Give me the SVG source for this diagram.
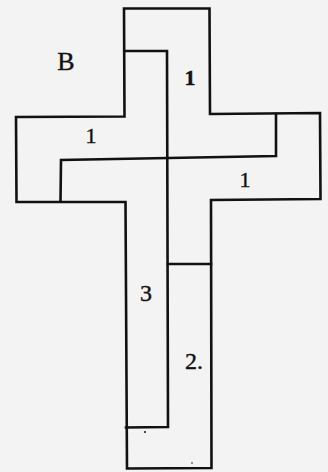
<svg xmlns="http://www.w3.org/2000/svg" width="328" height="472" viewBox="0 0 328 472">
<style>
.ln{fill:none;stroke:#111;stroke-width:2.6;stroke-linejoin:miter;stroke-linecap:square}
.lb{font-family:"Liberation Serif","DejaVu Serif",serif;fill:#111;stroke:#111;stroke-width:0.4;text-anchor:middle}
</style>
<rect width="328" height="472" fill="#f3f3f3"/>
<g id="outline">
<path class="ln" d="M124,8.5 L209.5,8.5 L210,114 L320,113 L320.5,199 L211,200 L211.5,468 L127,468.5 L125.5,202 L16.5,202 L16,117 L124.5,116.5 Z"/>
</g>
<g id="connectors">
<path class="ln" d="M124.5,51 L167,51 L168,427 L126,427.5"/>
<path class="ln" d="M168,264 L211,264"/>
<path class="ln" d="M276,114 L276,156 L61,160 L60.5,201"/>
</g>
<g id="piece-top"><text class="lb" x="190" y="85" font-size="22" font-weight="bold">1</text></g>
<g id="piece-left"><text class="lb" x="91" y="143" font-size="22">1</text></g>
<g id="piece-right"><text class="lb" x="245" y="187" font-size="22">1</text></g>
<g id="piece-3"><text class="lb" x="146" y="301" font-size="24">3</text></g>
<g id="piece-2"><text class="lb" x="194" y="369" font-size="24">2.</text></g>
<g id="label-b"><text class="lb" x="66" y="70" font-size="26">B</text></g>
<g id="marks">
<circle cx="145" cy="432" r="1" fill="#111"/>
<circle cx="192" cy="463" r="0.8" fill="#111"/>
</g>
</svg>
